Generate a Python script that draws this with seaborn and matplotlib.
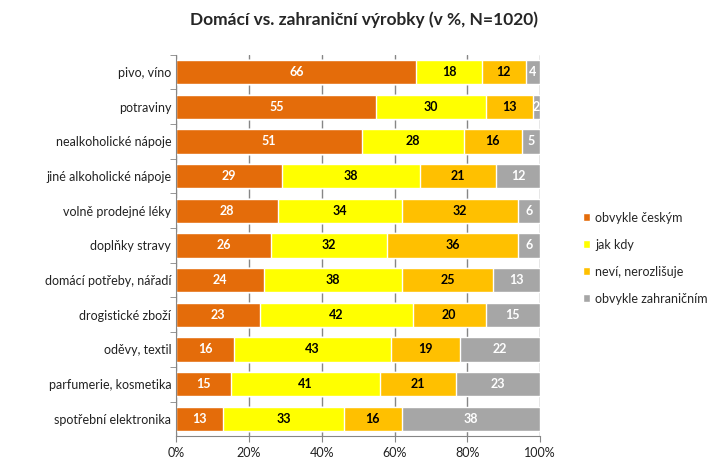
import pandas as pd
import numpy as np
import matplotlib.pyplot as plt
import seaborn as sns
from matplotlib.patches import Patch

# Data (percent, N=1020)
categories = ['pivo, víno', 'potraviny', 'nealkoholické nápoje', 'jiné alkoholické nápoje',
              'volně prodejné léky', 'doplňky stravy', 'domácí potřeby, nářadí',
              'drogistické zboží', 'oděvy, textil', 'parfumerie, kosmetika',
              'spotřební elektronika']
ceskym = [66, 55, 51, 29, 28, 26, 24, 23, 16, 15, 13]
jak_kdy = [18, 30, 28, 38, 34, 32, 38, 42, 43, 41, 33]
nevi = [12, 13, 16, 21, 32, 36, 25, 20, 19, 21, 16]
zahranicnim = [4, 2, 5, 12, 6, 6, 13, 15, 22, 23, 38]

series = ['obvykle českým', 'jak kdy', 'neví, nerozlišuje', 'obvykle zahraničním']
colors = ['#E46C0A', '#FFFF00', '#FFC000', '#A6A6A6']
text_colors = ['white', 'black', 'black', 'white']

df = pd.DataFrame({'kategorie': categories, series[0]: ceskym, series[1]: jak_kdy,
                   series[2]: nevi, series[3]: zahranicnim})
vals = df[series].to_numpy(dtype=float)
pct = vals / vals.sum(axis=1, keepdims=True) * 100
cum = np.cumsum(pct, axis=1)

sns.set_style('white')
plt.rcParams['font.family'] = ['Lato', 'DejaVu Sans']

fig = plt.figure(figsize=(7.28, 4.68), dpi=100)
ax = fig.add_axes([0.242, 0.068, 0.500, 0.815])

# stacked bars: draw cumulative totals from the back to the front
for i in range(len(series) - 1, -1, -1):
    sns.barplot(x=cum[:, i], y=df['kategorie'], color=colors[i], orient='h',
                width=0.7, saturation=1, ax=ax, zorder=2)

# value labels in the middle of each segment
for r in range(len(categories)):
    for i in range(len(series)):
        start = cum[r, i] - pct[r, i]
        ax.text(start + pct[r, i] / 2, r, str(int(vals[r, i])), ha='center', va='center',
                fontsize=9, fontweight='bold', color=text_colors[i], zorder=3)

ax.set_xlim(0, 100)
ax.set_ylim(len(categories) - 0.5, -0.5)
ax.set_xticks(np.arange(0, 101, 20))
ax.set_xticklabels([f'{t}%' for t in range(0, 101, 20)])
ax.set_xlabel('')
ax.set_ylabel('')
ax.grid(axis='x', color='#868686', linewidth=1, zorder=0)
ax.set_axisbelow(True)
for s in ['top', 'right']:
    ax.spines[s].set_visible(False)
for s in ['left', 'bottom']:
    ax.spines[s].set_color('#868686')
ax.tick_params(axis='both', labelsize=9, colors='#222222', length=4, color='#868686',
               direction='out', left=True, bottom=True)
ax.set_yticks(np.arange(len(categories)) - 0.5, minor=True)
ax.tick_params(axis='y', which='major', length=0)
ax.tick_params(axis='y', which='minor', length=4, color='#868686', left=True)

fig.suptitle('Domácí vs. zahraniční výrobky (v %, N=1020)', x=0.5, y=0.975,
             fontsize=12.5, fontweight='bold')

handles = [Patch(facecolor=c, label=l) for c, l in zip(colors, series)]
fig.legend(handles=handles, loc='upper left', bbox_to_anchor=(0.785, 0.572), frameon=False,
           fontsize=9, handlelength=0.6, handleheight=0.6, handletextpad=0.4, labelspacing=1.2)

plt.savefig('out.png', dpi=100)
